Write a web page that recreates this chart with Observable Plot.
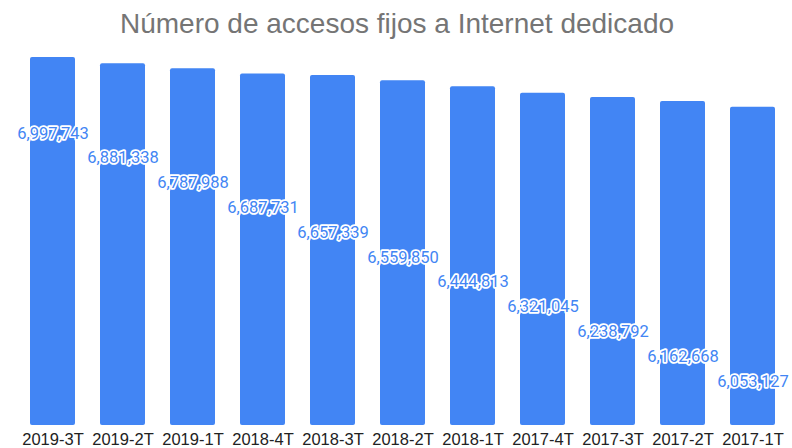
<!DOCTYPE html>
<html>
<head>
<meta charset="utf-8">
<script src="https://cdn.jsdelivr.net/npm/d3@7"></script>
<script src="https://cdn.jsdelivr.net/npm/@observablehq/plot@0.6"></script>
<style>
  html, body { margin: 0; padding: 0; background: #fff; }
  #title { height: 48px; line-height: 48px; text-align: center; font-family: "Liberation Sans", Arial, sans-serif; font-size: 28px; color: #757575; width: 792px; padding-left: 2px; box-sizing: border-box; }
  svg { display: block; overflow: visible; }
</style>
</head>
<body>
<div id="title">Número de accesos fijos a Internet dedicado</div>
<div id="chart"></div>
<script>
const periods = ["2019-3T","2019-2T","2019-1T","2018-4T","2018-3T","2018-2T","2018-1T","2017-4T","2017-3T","2017-2T","2017-1T"];
const accesses = [6997743, 6881338, 6787988, 6687731, 6657339, 6559850, 6444813, 6321045, 6238792, 6162668, 6053127];

const data = periods.map((p, i) => ({period: p, value: accesses[i]}));
const yMax = 7000000;
const fmt = d3.format(",");

const chart = Plot.plot({
  width: 792,
  height: 400,
  marginTop: 9,
  marginBottom: 23,
  marginLeft: 12,
  marginRight: 0,
  x: {domain: periods, paddingInner: 0.361, paddingOuter: 0.213, label: null},
  y: {domain: [0, yMax], axis: null},
  style: {fontFamily: "Liberation Sans, Arial, sans-serif"},
  marks: [
    Plot.barY(data, {x: "period", y: "value", fill: "#4285F4", rx: 2}),
    Plot.axisX({tickSize: 0, tickPadding: 8, fontSize: 16.5, fill: "#222", label: null}),
    Plot.text(data, {
      x: "period",
      y: (d, i) => yMax * (0.794 - 0.0674 * i),
      text: d => fmt(d.value),
      fill: "#4285F4",
      stroke: "white",
      strokeWidth: 3.5,
      fontSize: 16.5,
      fontFamily: "Roboto, sans-serif"
    })
  ]
});
document.getElementById("chart").appendChild(chart);
</script>
</body>
</html>
